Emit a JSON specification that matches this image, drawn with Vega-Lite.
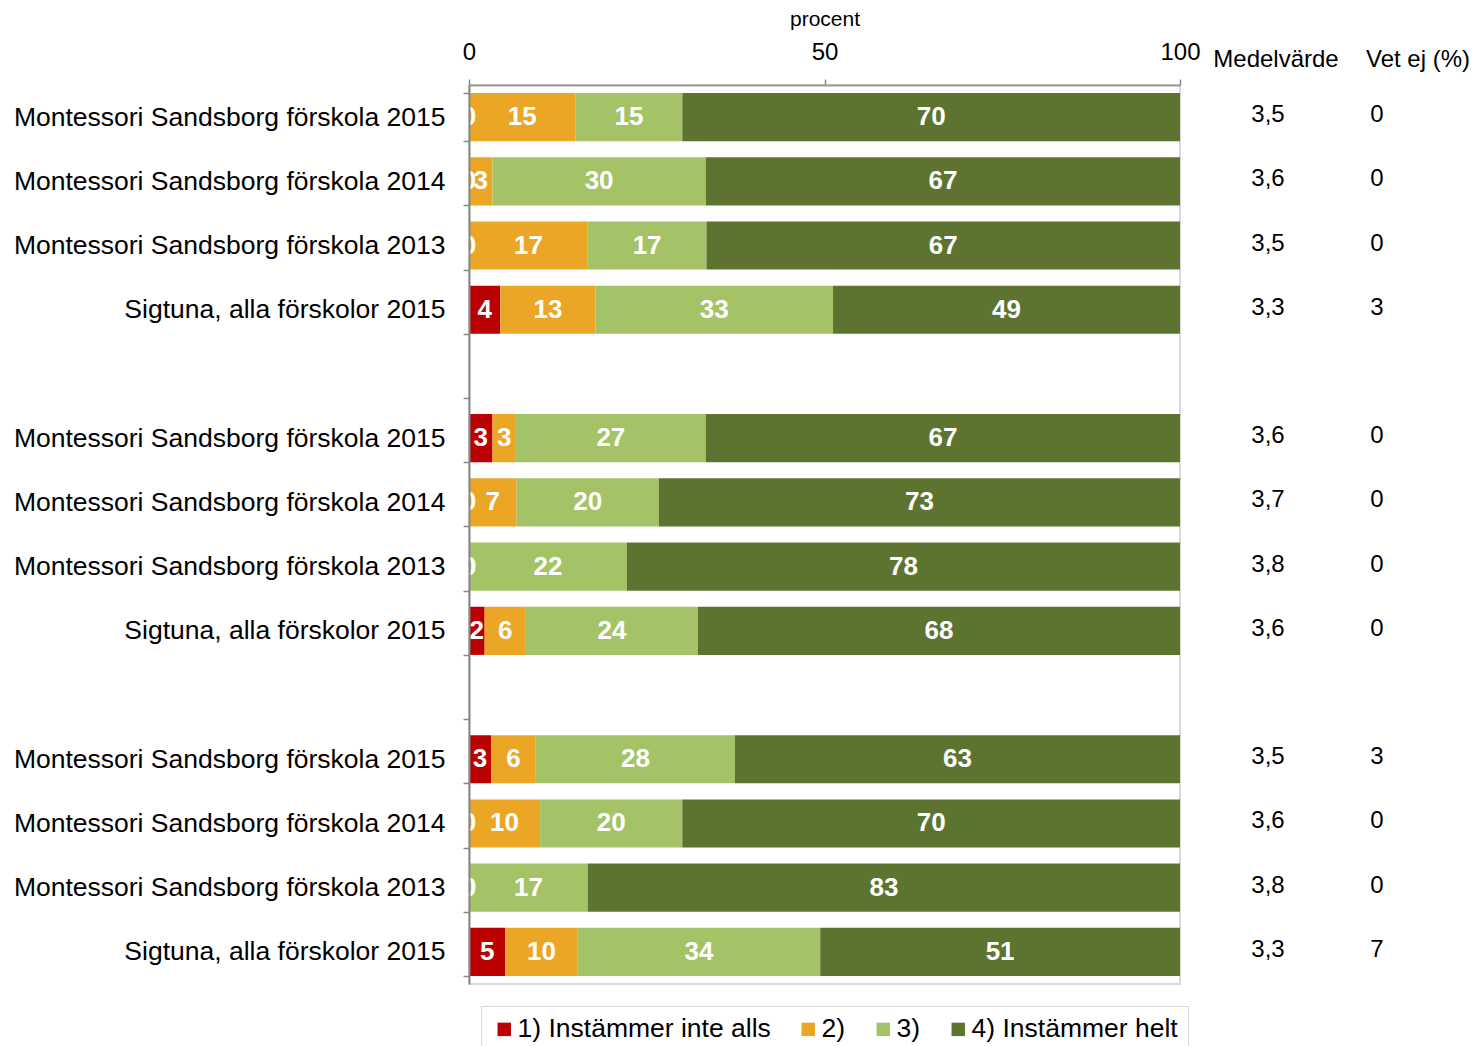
{
  "$schema": "https://vega.github.io/schema/vega-lite/v6.json",
  "padding": {"left": 12, "top": 7, "right": 0, "bottom": 0},
  "background": "white",
  "spacing": 0,
  "bounds": "flush",
  "config": {
    "font": "Liberation Sans",
    "view": {"stroke": null},
    "axis": {"labelFont": "Liberation Sans", "titleFont": "Liberation Sans"},
    "title": {"font": "Liberation Sans"},
    "legend": {"labelFont": "Liberation Sans"},
    "text": {"font": "Liberation Sans"}
  },
  "datasets": {
    "bars": [
      {"key": "Montessori Sandsborg förskola 2015|1", "cat": "1) Instämmer inte alls", "value": 0},
      {"key": "Montessori Sandsborg förskola 2015|1", "cat": "2)", "value": 15},
      {"key": "Montessori Sandsborg förskola 2015|1", "cat": "3)", "value": 15},
      {"key": "Montessori Sandsborg förskola 2015|1", "cat": "4) Instämmer helt", "value": 70},
      {"key": "Montessori Sandsborg förskola 2014|2", "cat": "1) Instämmer inte alls", "value": 0},
      {"key": "Montessori Sandsborg förskola 2014|2", "cat": "2)", "value": 3.3},
      {"key": "Montessori Sandsborg förskola 2014|2", "cat": "3)", "value": 30},
      {"key": "Montessori Sandsborg förskola 2014|2", "cat": "4) Instämmer helt", "value": 66.7},
      {"key": "Montessori Sandsborg förskola 2013|3", "cat": "1) Instämmer inte alls", "value": 0},
      {"key": "Montessori Sandsborg förskola 2013|3", "cat": "2)", "value": 16.7},
      {"key": "Montessori Sandsborg förskola 2013|3", "cat": "3)", "value": 16.7},
      {"key": "Montessori Sandsborg förskola 2013|3", "cat": "4) Instämmer helt", "value": 66.6},
      {"key": "Sigtuna, alla förskolor 2015|4", "cat": "1) Instämmer inte alls", "value": 4.4},
      {"key": "Sigtuna, alla förskolor 2015|4", "cat": "2)", "value": 13.4},
      {"key": "Sigtuna, alla förskolor 2015|4", "cat": "3)", "value": 33.4},
      {"key": "Sigtuna, alla förskolor 2015|4", "cat": "4) Instämmer helt", "value": 48.8},
      {"key": "Montessori Sandsborg förskola 2015|6", "cat": "1) Instämmer inte alls", "value": 3.3},
      {"key": "Montessori Sandsborg förskola 2015|6", "cat": "2)", "value": 3.3},
      {"key": "Montessori Sandsborg förskola 2015|6", "cat": "3)", "value": 26.7},
      {"key": "Montessori Sandsborg förskola 2015|6", "cat": "4) Instämmer helt", "value": 66.7},
      {"key": "Montessori Sandsborg förskola 2014|7", "cat": "1) Instämmer inte alls", "value": 0},
      {"key": "Montessori Sandsborg förskola 2014|7", "cat": "2)", "value": 6.7},
      {"key": "Montessori Sandsborg förskola 2014|7", "cat": "3)", "value": 20},
      {"key": "Montessori Sandsborg förskola 2014|7", "cat": "4) Instämmer helt", "value": 73.3},
      {"key": "Montessori Sandsborg förskola 2013|8", "cat": "1) Instämmer inte alls", "value": 0},
      {"key": "Montessori Sandsborg förskola 2013|8", "cat": "2)", "value": 0},
      {"key": "Montessori Sandsborg förskola 2013|8", "cat": "3)", "value": 22.2},
      {"key": "Montessori Sandsborg förskola 2013|8", "cat": "4) Instämmer helt", "value": 77.8},
      {"key": "Sigtuna, alla förskolor 2015|9", "cat": "1) Instämmer inte alls", "value": 2.2},
      {"key": "Sigtuna, alla förskolor 2015|9", "cat": "2)", "value": 5.8},
      {"key": "Sigtuna, alla förskolor 2015|9", "cat": "3)", "value": 24.2},
      {"key": "Sigtuna, alla förskolor 2015|9", "cat": "4) Instämmer helt", "value": 67.8},
      {"key": "Montessori Sandsborg förskola 2015|11", "cat": "1) Instämmer inte alls", "value": 3.1},
      {"key": "Montessori Sandsborg förskola 2015|11", "cat": "2)", "value": 6.3},
      {"key": "Montessori Sandsborg förskola 2015|11", "cat": "3)", "value": 28.0},
      {"key": "Montessori Sandsborg förskola 2015|11", "cat": "4) Instämmer helt", "value": 62.6},
      {"key": "Montessori Sandsborg förskola 2014|12", "cat": "1) Instämmer inte alls", "value": 0},
      {"key": "Montessori Sandsborg förskola 2014|12", "cat": "2)", "value": 10},
      {"key": "Montessori Sandsborg förskola 2014|12", "cat": "3)", "value": 20},
      {"key": "Montessori Sandsborg förskola 2014|12", "cat": "4) Instämmer helt", "value": 70},
      {"key": "Montessori Sandsborg förskola 2013|13", "cat": "1) Instämmer inte alls", "value": 0},
      {"key": "Montessori Sandsborg förskola 2013|13", "cat": "2)", "value": 0},
      {"key": "Montessori Sandsborg förskola 2013|13", "cat": "3)", "value": 16.7},
      {"key": "Montessori Sandsborg förskola 2013|13", "cat": "4) Instämmer helt", "value": 83.3},
      {"key": "Sigtuna, alla förskolor 2015|14", "cat": "1) Instämmer inte alls", "value": 5.1},
      {"key": "Sigtuna, alla förskolor 2015|14", "cat": "2)", "value": 10.2},
      {"key": "Sigtuna, alla förskolor 2015|14", "cat": "3)", "value": 34.1},
      {"key": "Sigtuna, alla förskolor 2015|14", "cat": "4) Instämmer helt", "value": 50.6}
    ],
    "table": [
      {"key": "Montessori Sandsborg förskola 2015|1", "medel": "3,5", "vetej": "0"},
      {"key": "Montessori Sandsborg förskola 2014|2", "medel": "3,6", "vetej": "0"},
      {"key": "Montessori Sandsborg förskola 2013|3", "medel": "3,5", "vetej": "0"},
      {"key": "Sigtuna, alla förskolor 2015|4", "medel": "3,3", "vetej": "3"},
      {"key": "Montessori Sandsborg förskola 2015|6", "medel": "3,6", "vetej": "0"},
      {"key": "Montessori Sandsborg förskola 2014|7", "medel": "3,7", "vetej": "0"},
      {"key": "Montessori Sandsborg förskola 2013|8", "medel": "3,8", "vetej": "0"},
      {"key": "Sigtuna, alla förskolor 2015|9", "medel": "3,6", "vetej": "0"},
      {"key": "Montessori Sandsborg förskola 2015|11", "medel": "3,5", "vetej": "3"},
      {"key": "Montessori Sandsborg förskola 2014|12", "medel": "3,6", "vetej": "0"},
      {"key": "Montessori Sandsborg förskola 2013|13", "medel": "3,8", "vetej": "0"},
      {"key": "Sigtuna, alla förskolor 2015|14", "medel": "3,3", "vetej": "7"}
    ]
  },
  "resolve": {"legend": {"color": "independent"}, "scale": {"y": "independent"}},
  "hconcat": [
    {
      "width": 711,
      "height": 899,
      "data": {"name": "bars"},
      "view": {"stroke": "#d9d9d9", "strokeWidth": 2},
      "encoding": {
        "y": {
          "field": "key", "type": "nominal",
          "scale": {
            "domain": ["Montessori Sandsborg förskola 2015|1", "Montessori Sandsborg förskola 2014|2", "Montessori Sandsborg förskola 2013|3", "Sigtuna, alla förskolor 2015|4", "|5", "Montessori Sandsborg förskola 2015|6", "Montessori Sandsborg förskola 2014|7", "Montessori Sandsborg förskola 2013|8", "Sigtuna, alla förskolor 2015|9", "|10", "Montessori Sandsborg förskola 2015|11", "Montessori Sandsborg förskola 2014|12", "Montessori Sandsborg förskola 2013|13", "Sigtuna, alla förskolor 2015|14"],
            "paddingInner": 0.25, "paddingOuter": 0.125
          },
          "axis": {
            "orient": "left", "title": null,
            "labelExpr": "split(datum.label, '|')[0]",
            "labelFontSize": 26.5, "labelColor": "black", "labelPadding": 18, "labelLimit": 0,
            "tickBand": "extent", "tickSize": 6, "tickColor": "#888", "tickWidth": 1.5,
            "domainColor": "#888", "domainWidth": 2, "zindex": 1
          }
        },
        "x": {
          "field": "value", "type": "quantitative", "stack": "zero",
          "scale": {"domain": [0, 100]},
          "axis": {
            "orient": "top", "values": [0, 50, 100], "grid": false, "labelFlush": false,
            "title": "procent", "titleFontSize": 21, "titleFontWeight": "normal", "titleColor": "black", "titlePadding": 11,
            "labelFontSize": 24, "labelColor": "black", "labelPadding": 15,
            "tickSize": 6, "tickColor": "#888", "tickWidth": 1.5,
            "domainColor": "#999", "domainWidth": 2, "zindex": 1
          }
        },
        "detail": {"field": "cat", "type": "nominal"},
        "order": {"field": "cat"}
      },
      "layer": [
        {
          "mark": {"type": "bar"},
          "encoding": {
            "color": {
              "field": "cat", "type": "nominal",
              "scale": {
                "domain": ["1) Instämmer inte alls", "2)", "3)", "4) Instämmer helt"],
                "range": ["#BA0000", "#EBA626", "#A4C367", "#5C7430"]
              },
              "legend": {
                "orient": "none", "legendX": 12, "legendY": 921,
                "direction": "horizontal", "columns": 4, "title": null,
                "symbolType": "square", "symbolSize": 180, "symbolStrokeWidth": 0,
                "labelFontSize": 26.5, "labelColor": "black", "labelLimit": 0, "labelOffset": 0,
                "strokeColor": "#d9d9d9", "padding": 10, "columnPadding": 24
              }
            }
          }
        },
        {
          "mark": {"type": "text", "color": "white", "fontWeight": "bold", "fontSize": 26, "baseline": "middle"},
          "encoding": {
            "x": {"field": "value", "type": "quantitative", "stack": "zero", "bandPosition": 0.5},
            "text": {"field": "value", "type": "quantitative", "format": ".0f"}
          }
        }
      ]
    },
    {
      "width": 176,
      "height": 899,
      "data": {"name": "table"},
      "title": {"text": "Medelvärde", "fontSize": 24, "fontWeight": "normal", "color": "black", "anchor": "middle", "dx": 8, "offset": 13},
      "mark": {"type": "text", "fontSize": 24, "color": "black", "dy": -2},
      "encoding": {
        "y": {
          "field": "key", "type": "nominal",
          "scale": {
            "domain": ["Montessori Sandsborg förskola 2015|1", "Montessori Sandsborg förskola 2014|2", "Montessori Sandsborg förskola 2013|3", "Sigtuna, alla förskolor 2015|4", "|5", "Montessori Sandsborg förskola 2015|6", "Montessori Sandsborg förskola 2014|7", "Montessori Sandsborg förskola 2013|8", "Sigtuna, alla förskolor 2015|9", "|10", "Montessori Sandsborg förskola 2015|11", "Montessori Sandsborg förskola 2014|12", "Montessori Sandsborg förskola 2013|13", "Sigtuna, alla förskolor 2015|14"],
            "paddingInner": 0.25, "paddingOuter": 0.125
          },
          "axis": null
        },
        "text": {"field": "medel", "type": "nominal"}
      }
    },
    {
      "width": 42,
      "height": 899,
      "data": {"name": "table"},
      "title": {"text": "Vet ej (%)", "fontSize": 24, "fontWeight": "normal", "color": "black", "anchor": "start", "dx": 10, "offset": 13},
      "mark": {"type": "text", "fontSize": 24, "color": "black", "dy": -2},
      "encoding": {
        "y": {
          "field": "key", "type": "nominal",
          "scale": {
            "domain": ["Montessori Sandsborg förskola 2015|1", "Montessori Sandsborg förskola 2014|2", "Montessori Sandsborg förskola 2013|3", "Sigtuna, alla förskolor 2015|4", "|5", "Montessori Sandsborg förskola 2015|6", "Montessori Sandsborg förskola 2014|7", "Montessori Sandsborg förskola 2013|8", "Sigtuna, alla förskolor 2015|9", "|10", "Montessori Sandsborg förskola 2015|11", "Montessori Sandsborg förskola 2014|12", "Montessori Sandsborg förskola 2013|13", "Sigtuna, alla förskolor 2015|14"],
            "paddingInner": 0.25, "paddingOuter": 0.125
          },
          "axis": null
        },
        "text": {"field": "vetej", "type": "nominal"}
      }
    }
  ]
}
